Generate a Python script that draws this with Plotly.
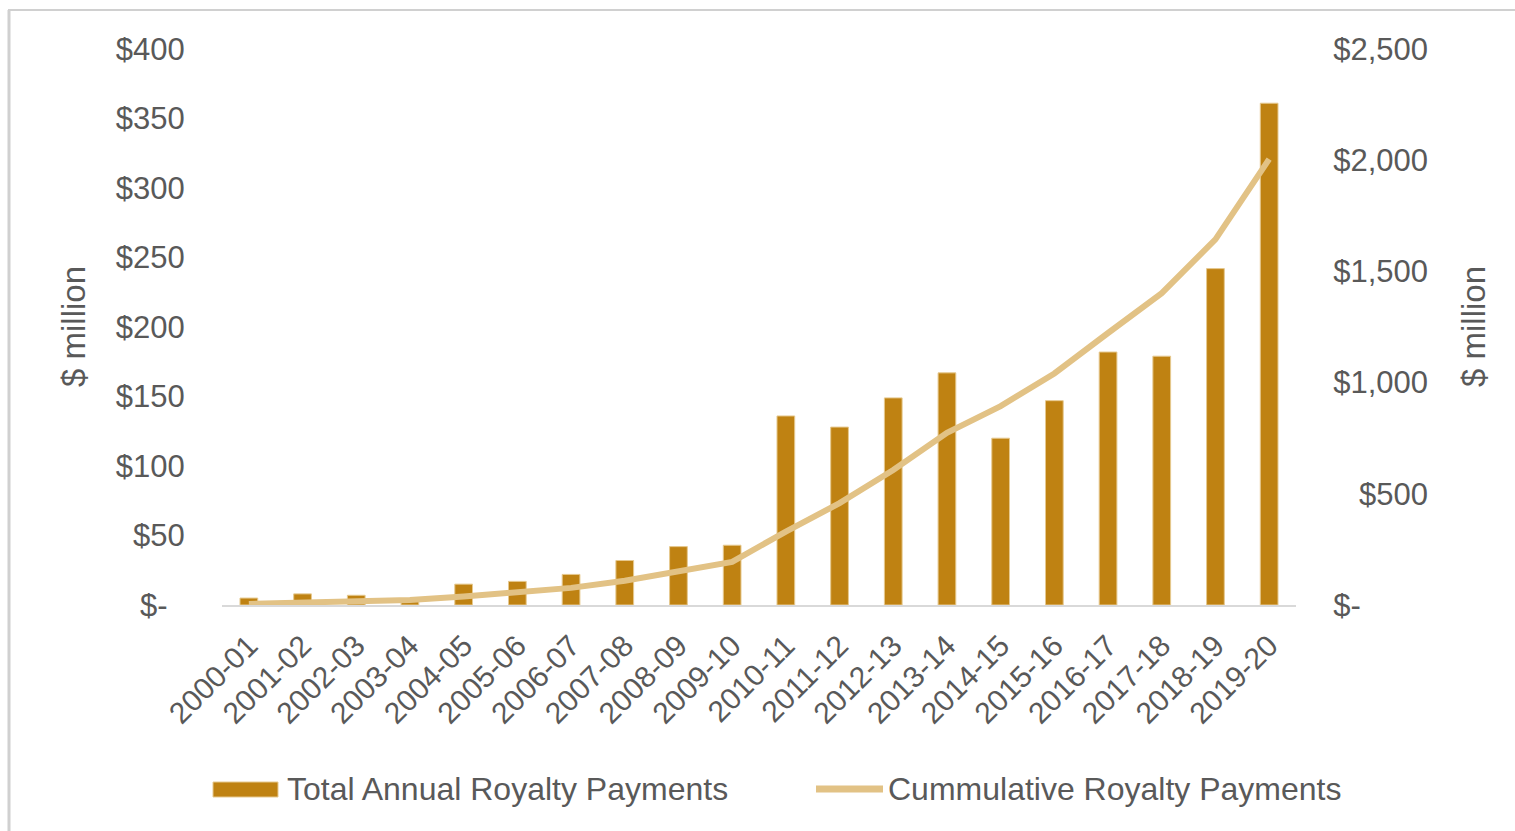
import plotly.graph_objects as go

# Financial years
years = ["2000-01", "2001-02", "2002-03", "2003-04", "2004-05", "2005-06",
         "2006-07", "2007-08", "2008-09", "2009-10", "2010-11", "2011-12",
         "2012-13", "2013-14", "2014-15", "2015-16", "2016-17", "2017-18",
         "2018-19", "2019-20"]

# Total annual royalty payments ($ million)
annual = [5, 8, 7, 3, 15, 17, 22, 32, 42, 43, 136, 128, 149, 167, 120,
          147, 182, 179, 242, 361]

# Cumulative royalty payments ($ million)
cumulative = [5, 13, 20, 23, 38, 55, 77, 109, 151, 194, 330, 458, 607, 774,
              894, 1041, 1223, 1402, 1644, 2005]

left_ticks = [0, 50, 100, 150, 200, 250, 300, 350, 400]
left_labels = ["$-\u00a0\u00a0", "$50", "$100", "$150", "$200", "$250",
               "$300", "$350", "$400"]
right_ticks = [0, 500, 1000, 1500, 2000, 2500]
right_labels = ["$-", "\u00a0\u00a0\u00a0$500", "$1,000", "$1,500",
                "$2,000", "$2,500"]

BAR_COLOR = "#BF8212"
LINE_COLOR = "#E2C285"
TEXT_COLOR = "#595959"
FONT = "Liberation Sans, Arial, sans-serif"

W, H = 1515, 831
L, R, T, B = 222, 219, 49, 226
PW, PH = W - L - R, H - T - B


def px(x):
    return (x - L) / PW


def py(y):
    return (H - B - y) / PH


fig = go.Figure()
fig.add_trace(go.Bar(
    x=years, y=annual, name="Total Annual Royalty Payments",
    marker=dict(color=BAR_COLOR, line=dict(color="#E6C98F", width=1)),
    yaxis="y", showlegend=False,
))
fig.add_trace(go.Scatter(
    x=years, y=cumulative, name="Cummulative Royalty Payments",
    mode="lines", line=dict(color=LINE_COLOR, width=6),
    yaxis="y2", showlegend=False,
))

tick_font = dict(family=FONT, size=31, color=TEXT_COLOR)

fig.update_layout(
    width=W, height=H,
    margin=dict(l=L, r=R, t=T, b=B, pad=0),
    paper_bgcolor="white", plot_bgcolor="white",
    bargap=0.67,
    xaxis=dict(
        type="category", tickangle=-45,
        tickfont=dict(family=FONT, size=30, color=TEXT_COLOR),
        showgrid=False, showline=True, linecolor="#D9D9D9", linewidth=2,
        ticks="outside", ticklen=9, tickcolor="rgba(0,0,0,0)",
        range=[-0.5, 19.5],
    ),
    yaxis=dict(
        range=[0, 400], tickvals=left_ticks, ticktext=left_labels,
        tickfont=tick_font, showgrid=False, zeroline=False, showline=False,
        ticks="outside", ticklen=30, tickcolor="rgba(0,0,0,0)",
    ),
    yaxis2=dict(
        range=[0, 2500], tickvals=right_ticks, ticktext=right_labels,
        tickfont=tick_font, showgrid=False, zeroline=False, showline=False,
        overlaying="y", side="right",
        ticks="outside", ticklen=30, tickcolor="rgba(0,0,0,0)",
    ),
)

# Axis titles
for xp in (73, 1473):
    fig.add_annotation(
        x=px(xp), y=py(327), xref="paper", yref="paper",
        text="$ million", textangle=-90, showarrow=False,
        xanchor="center", yanchor="middle",
        font=dict(family=FONT, size=33, color=TEXT_COLOR),
    )

# Legend drawn below the axis
legend_y = 789
fig.add_shape(type="rect", xref="paper", yref="paper",
              x0=px(213), x1=px(278), y0=py(797), y1=py(782),
              fillcolor=BAR_COLOR, line=dict(color="#E6C98F", width=1))
fig.add_annotation(x=px(285), y=py(legend_y), xref="paper", yref="paper",
                   text="Total Annual Royalty Payments", showarrow=False,
                   xanchor="left", yanchor="middle",
                   font=dict(family=FONT, size=32, color=TEXT_COLOR))
fig.add_shape(type="line", xref="paper", yref="paper",
              x0=px(816), x1=px(883), y0=py(legend_y), y1=py(legend_y),
              line=dict(color=LINE_COLOR, width=7))
fig.add_annotation(x=px(886), y=py(legend_y), xref="paper", yref="paper",
                   text="Cummulative Royalty Payments", showarrow=False,
                   xanchor="left", yanchor="middle",
                   font=dict(family=FONT, size=32, color=TEXT_COLOR))

# Outer frame edges (left and top)
fig.add_shape(type="line", xref="paper", yref="paper",
              x0=px(9), x1=px(9), y0=py(10), y1=py(H + 5),
              line=dict(color="#D0D0D0", width=3))
fig.add_shape(type="line", xref="paper", yref="paper",
              x0=px(8), x1=px(W + 5), y0=py(10), y1=py(10),
              line=dict(color="#D0D0D0", width=2))

fig.write_html("out.html")
